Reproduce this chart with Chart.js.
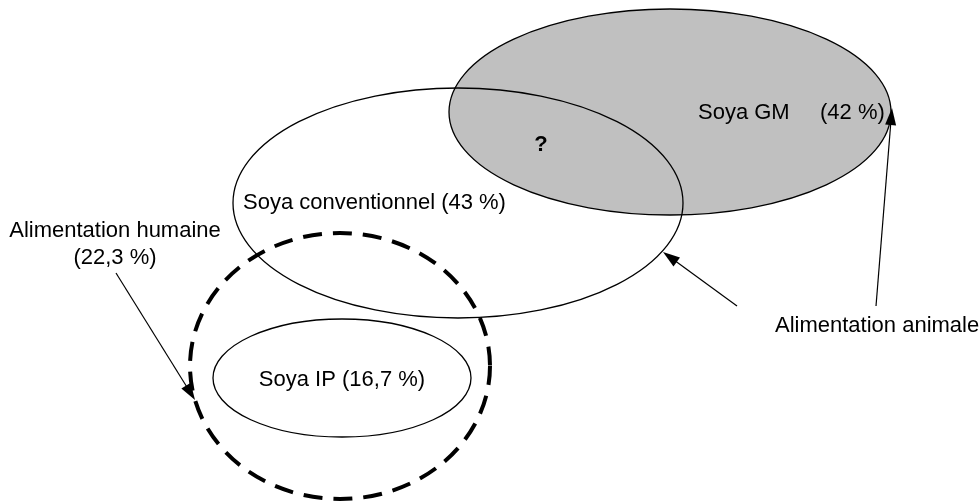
<!DOCTYPE html>
<html>
<head>
<meta charset="utf-8">
<script src="https://cdn.jsdelivr.net/npm/chart.js@4"></script>
<style>
  html, body { margin: 0; padding: 0; background: #fff; }
  #wrap { width: 979px; height: 504px; }
</style>
</head>
<body>
<div id="wrap"><canvas id="venn"></canvas></div>
<script>
// Market segments (diagram units, same grid as the picture)
const segments = ['Soya conventionnel', 'Soya GM', 'Soya IP', 'Alimentation humaine'];
const shares = ['43 %', '42 %', '16,7 %', '22,3 %'];
const centerX = [458, 670, 342, 340];
const centerY = [203, 112, 378, 366];
const radiusX = [225, 221, 129, 150];
const radiusY = [115, 103, 59, 133];

// Arrows: [from, to] in diagram units
const arrowFromX = [116, 737, 876];
const arrowFromY = [273, 306, 306];
const arrowToX = [195, 663, 892];
const arrowToY = [400, 252, 108];

const FONT = '22px "Liberation Sans", Arial, sans-serif';

function ellipse(ctx, x, y, i) {
    const cx = x.getPixelForValue(centerX[i]);
    const cy = y.getPixelForValue(centerY[i]);
    const rx = Math.abs(x.getPixelForValue(centerX[i] + radiusX[i]) - cx);
    const ry = Math.abs(y.getPixelForValue(centerY[i] + radiusY[i]) - cy);
    ctx.beginPath();
    ctx.ellipse(cx, cy, rx, ry, 0, 0, Math.PI * 2);
}

function arrow(ctx, x, y, i) {
    const x0 = x.getPixelForValue(arrowFromX[i]), y0 = y.getPixelForValue(arrowFromY[i]);
    const x1 = x.getPixelForValue(arrowToX[i]), y1 = y.getPixelForValue(arrowToY[i]);
    const a = Math.atan2(y1 - y0, x1 - x0);
    const len = 17, half = 5.5;
    ctx.beginPath();
    ctx.moveTo(x0, y0);
    ctx.lineTo(x1 - Math.cos(a) * len * 0.8, y1 - Math.sin(a) * len * 0.8);
    ctx.lineWidth = 1.2;
    ctx.strokeStyle = '#000';
    ctx.stroke();
    ctx.beginPath();
    ctx.moveTo(x1, y1);
    ctx.lineTo(x1 - Math.cos(a) * len - Math.sin(a) * half, y1 - Math.sin(a) * len + Math.cos(a) * half);
    ctx.lineTo(x1 - Math.cos(a) * len + Math.sin(a) * half, y1 - Math.sin(a) * len - Math.cos(a) * half);
    ctx.closePath();
    ctx.fillStyle = '#000';
    ctx.fill();
}

const vennPlugin = {
    id: 'venn',
    afterDatasetsDraw(chart) {
        const ctx = chart.ctx;
        const x = chart.scales.x, y = chart.scales.y;
        ctx.save();

        // GM ellipse, grey fill
        ellipse(ctx, x, y, 1);
        ctx.fillStyle = '#c0c0c0';
        ctx.fill();

        ctx.strokeStyle = '#000';
        ctx.lineWidth = 1.3;
        ellipse(ctx, x, y, 1); ctx.stroke();
        ellipse(ctx, x, y, 0); ctx.stroke();
        ellipse(ctx, x, y, 2); ctx.stroke();

        // human food, thick dashed
        ctx.setLineDash([19, 11]);
        ctx.lineWidth = 4;
        ellipse(ctx, x, y, 3); ctx.stroke();
        ctx.setLineDash([]);

        for (let i = 0; i < arrowFromX.length; i++) arrow(ctx, x, y, i);

        // labels
        ctx.fillStyle = '#000';
        ctx.font = FONT;
        ctx.textBaseline = 'middle';
        ctx.textAlign = 'left';
        ctx.fillText(segments[0] + ' (' + shares[0] + ')', x.getPixelForValue(243), y.getPixelForValue(203));
        ctx.fillText(segments[1], x.getPixelForValue(698), y.getPixelForValue(113));
        ctx.fillText('(' + shares[1] + ')', x.getPixelForValue(820), y.getPixelForValue(113));
        ctx.textAlign = 'center';
        ctx.fillText(segments[2] + ' (' + shares[2] + ')', x.getPixelForValue(342), y.getPixelForValue(380));
        ctx.fillText(segments[3], x.getPixelForValue(115), y.getPixelForValue(231));
        ctx.fillText('(' + shares[3] + ')', x.getPixelForValue(115), y.getPixelForValue(258));
        ctx.textAlign = 'left';
        ctx.fillText('Alimentation animale', x.getPixelForValue(775), y.getPixelForValue(326));
        ctx.font = 'bold 22px "Liberation Sans", Arial, sans-serif';
        ctx.textAlign = 'center';
        ctx.fillText('?', x.getPixelForValue(541), y.getPixelForValue(145));

        ctx.restore();
    }
};

const ctx = document.getElementById('venn').getContext('2d');
new Chart(ctx, {
    type: 'scatter',
    data: {
        datasets: [{
            label: 'centres',
            data: centerX.map((v, i) => ({ x: v, y: centerY[i] })),
            pointRadius: 0
        }]
    },
    options: {
        responsive: true,
        maintainAspectRatio: false,
        animation: false,
        layout: { padding: 0 },
        plugins: { legend: { display: false }, tooltip: { enabled: false } },
        scales: {
            x: { type: 'linear', min: 0, max: 979, display: false },
            y: { type: 'linear', min: 0, max: 504, reverse: true, display: false }
        }
    },
    plugins: [vennPlugin]
});
</script>
</body>
</html>
